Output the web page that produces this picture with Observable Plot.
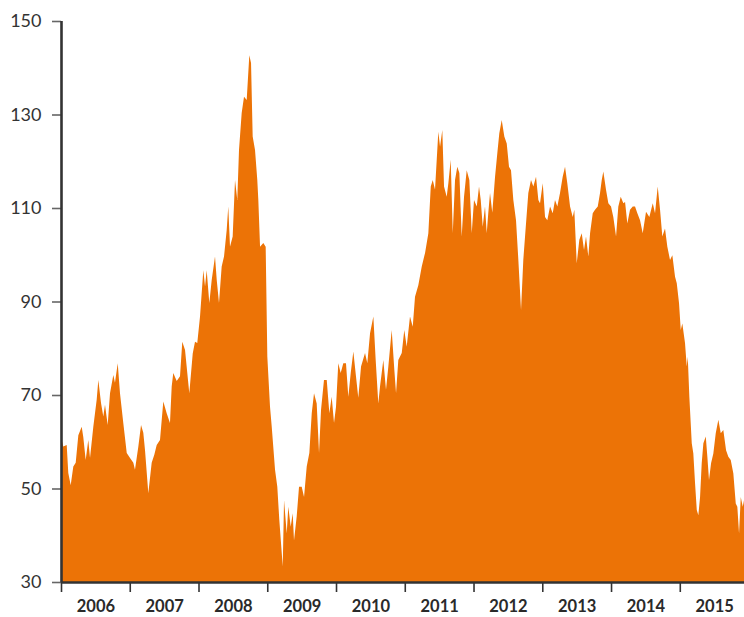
<!DOCTYPE html>
<html>
<head>
<meta charset="utf-8">
<script src="https://cdn.jsdelivr.net/npm/d3@7"></script>
<script src="https://cdn.jsdelivr.net/npm/@observablehq/plot@0.6"></script>
<style>
  html, body { margin: 0; padding: 0; background: #fff; }
  #chart { width: 744px; height: 617px; }
</style>
</head>
<body>
<div id="chart"></div>
<script>
// Time as decimal year, price
const dates = [
  2006.000, 2006.033, 2006.083, 2006.106, 2006.141, 2006.179, 2006.214, 2006.252, 2006.301, 2006.324,
  2006.359, 2006.397, 2006.422, 2006.470, 2006.519, 2006.543, 2006.582, 2006.615, 2006.640, 2006.679,
  2006.713, 2006.761, 2006.785, 2006.825, 2006.858, 2006.906, 2006.956, 2007.004, 2007.052, 2007.076,
  2007.124, 2007.164, 2007.197, 2007.222, 2007.270, 2007.319, 2007.357, 2007.392, 2007.440, 2007.488,
  2007.537, 2007.585, 2007.610, 2007.633, 2007.683, 2007.731, 2007.764, 2007.804, 2007.866, 2007.916,
  2007.949, 2007.982, 2008.022, 2008.070, 2008.095, 2008.119, 2008.157, 2008.192, 2008.240, 2008.265,
  2008.298, 2008.337, 2008.371, 2008.410, 2008.433, 2008.458, 2008.497, 2008.531, 2008.564, 2008.589,
  2008.628, 2008.662, 2008.701, 2008.739, 2008.764, 2008.788, 2008.822, 2008.855, 2008.870, 2008.895,
  2008.943, 2008.977, 2009.001, 2009.040, 2009.065, 2009.113, 2009.146, 2009.175, 2009.225, 2009.244,
  2009.283, 2009.306, 2009.341, 2009.370, 2009.389, 2009.428, 2009.462, 2009.501, 2009.535, 2009.574,
  2009.612, 2009.647, 2009.680, 2009.719, 2009.753, 2009.782, 2009.825, 2009.865, 2009.903, 2009.937,
  2009.971, 2010.000, 2010.033, 2010.068, 2010.106, 2010.145, 2010.179, 2010.214, 2010.252, 2010.291,
  2010.324, 2010.364, 2010.422, 2010.455, 2010.495, 2010.543, 2010.577, 2010.615, 2010.640, 2010.688,
  2010.727, 2010.761, 2010.810, 2010.848, 2010.873, 2010.906, 2010.956, 2010.993, 2011.028, 2011.076,
  2011.116, 2011.149, 2011.197, 2011.247, 2011.295, 2011.343, 2011.378, 2011.407, 2011.440, 2011.488,
  2011.513, 2011.546, 2011.571, 2011.610, 2011.634, 2011.668, 2011.698, 2011.731, 2011.764, 2011.794,
  2011.828, 2011.862, 2011.901, 2011.939, 2011.974, 2012.007, 2012.047, 2012.080, 2012.105, 2012.134,
  2012.167, 2012.192, 2012.215, 2012.240, 2012.273, 2012.313, 2012.346, 2012.375, 2012.410, 2012.448,
  2012.483, 2012.516, 2012.545, 2012.579, 2012.618, 2012.652, 2012.691, 2012.724, 2012.764, 2012.797,
  2012.836, 2012.870, 2012.909, 2012.943, 2012.967, 2013.007, 2013.040, 2013.073, 2013.113, 2013.152,
  2013.185, 2013.219, 2013.258, 2013.297, 2013.331, 2013.364, 2013.404, 2013.443, 2013.466, 2013.501,
  2013.539, 2013.574, 2013.607, 2013.636, 2013.670, 2013.695, 2013.734, 2013.767, 2013.807, 2013.840,
  2013.865, 2013.888, 2013.927, 2013.961, 2014.000, 2014.033, 2014.073, 2014.106, 2014.141, 2014.179,
  2014.204, 2014.237, 2014.276, 2014.316, 2014.349, 2014.383, 2014.422, 2014.461, 2014.509, 2014.557,
  2014.607, 2014.640, 2014.679, 2014.713, 2014.746, 2014.785, 2014.819, 2014.858, 2014.892, 2014.931,
  2014.956, 2014.989, 2015.014, 2015.037, 2015.076, 2015.101, 2015.116, 2015.139, 2015.174, 2015.197,
  2015.222, 2015.247, 2015.270, 2015.295, 2015.319, 2015.343, 2015.378, 2015.401, 2015.425, 2015.455,
  2015.488, 2015.523, 2015.561, 2015.596, 2015.633, 2015.673, 2015.706, 2015.741, 2015.779, 2015.814,
  2015.837, 2015.862, 2015.887, 2015.916, 2015.934
];
const prices = [
  61.0, 59.0, 59.3, 53.3, 50.7, 54.7, 55.5, 61.4, 63.2, 61.0,
  56.1, 60.4, 56.5, 63.2, 69.0, 73.2, 68.3, 65.4, 67.9, 63.6,
  70.4, 74.3, 72.6, 76.8, 70.4, 64.0, 57.6, 56.5, 55.5, 54.0,
  58.9, 63.6, 61.9, 58.2, 49.0, 55.5, 57.2, 59.3, 60.4, 68.6,
  66.1, 64.0, 71.8, 74.7, 73.0, 74.0, 81.4, 79.6, 70.4, 78.9,
  81.4, 81.1, 86.8, 96.7, 93.2, 96.7, 89.7, 94.6, 99.6, 94.6,
  89.7, 97.5, 99.6, 105.3, 110.3, 101.7, 103.9, 116.0, 111.7, 122.4,
  130.3, 133.8, 133.1, 142.7, 141.0, 125.3, 122.4, 116.0, 111.7, 101.7,
  102.5, 101.7, 78.2, 67.5, 63.2, 54.0, 50.4, 43.3, 33.3, 47.5,
  40.4, 46.1, 41.8, 44.7, 38.9, 44.0, 50.4, 50.4, 48.2, 54.7,
  57.6, 66.1, 70.4, 68.2, 57.6, 66.8, 73.2, 73.2, 66.1, 69.6,
  64.0, 67.5, 76.8, 74.7, 76.8, 76.8, 69.6, 74.7, 79.3, 73.9,
  69.4, 76.1, 79.0, 76.8, 83.2, 86.8, 77.5, 68.2, 71.8, 77.5,
  71.1, 76.1, 83.9, 75.4, 70.4, 77.5, 79.0, 83.9, 80.3, 86.8,
  84.6, 91.0, 93.5, 97.5, 100.4, 104.6, 114.6, 116.0, 113.9, 126.3,
  123.1, 126.7, 114.6, 112.4, 115.3, 120.3, 104.6, 116.0, 118.8, 117.5,
  103.9, 112.4, 118.1, 116.0, 104.6, 111.7, 110.3, 114.6, 111.7, 106.0,
  110.3, 104.6, 109.0, 113.2, 109.0, 116.7, 121.7, 126.0, 128.8, 125.3,
  123.8, 118.8, 118.1, 111.7, 107.4, 98.9, 88.2, 98.9, 106.8, 113.2,
  116.0, 114.6, 116.7, 111.7, 111.0, 115.3, 108.1, 107.4, 110.3, 108.9,
  111.7, 110.3, 113.2, 116.7, 118.8, 115.3, 110.3, 108.1, 109.6, 98.2,
  103.2, 104.6, 101.0, 103.9, 99.6, 104.6, 108.9, 109.6, 110.3, 113.2,
  116.0, 117.8, 113.9, 111.0, 110.3, 108.1, 103.9, 110.3, 112.4, 111.0,
  111.3, 106.7, 109.6, 110.3, 110.3, 108.9, 107.4, 104.6, 109.2, 108.1,
  111.0, 108.9, 114.6, 109.6, 103.9, 105.6, 101.7, 98.9, 99.9, 95.3,
  93.9, 89.6, 83.9, 85.3, 81.1, 76.1, 78.2, 69.6, 59.7, 57.5,
  51.1, 45.4, 44.3, 48.2, 55.4, 59.7, 61.1, 56.8, 51.8, 55.4,
  57.5, 61.8, 64.7, 61.8, 62.5, 58.2, 56.8, 56.1, 53.2, 46.8,
  46.1, 40.4, 48.2, 46.1, 47.5
];
const yTicks = [30, 50, 70, 90, 110, 130, 150];
const yearTicks = [2006, 2007, 2008, 2009, 2010, 2011, 2012, 2013, 2014, 2015];
const yearLabels = ["2006", "2007", "2008", "2009", "2010", "2011", "2012", "2013", "2014", "2015"];
const xDomain = [2006, 2015.934];
const yDomain = [30, 150];

const data = dates.map((t, i) => ({t, v: prices[i]}));
const labelPos = yearTicks.map(y => y + 0.5);

const chart = Plot.plot({
  width: 744,
  height: 617,
  marginLeft: 61,
  marginRight: 0,
  marginTop: 21,
  marginBottom: 35,
  style: {fontFamily: "Lato, 'Open Sans', sans-serif", background: "#fff", color: "#333"},
  x: {type: "linear", domain: xDomain},
  y: {domain: yDomain},
  marks: [
    Plot.areaY(data, {x: "t", y1: 30, y2: "v", fill: "#ec7306", curve: "linear"}),
    Plot.axisY({ticks: yTicks, tickSize: 9, tickPadding: 11, fontSize: 18, fontWeight: 400,
                stroke: "#666", strokeWidth: 1.6, fill: "#333", label: null}),
    Plot.axisX({ticks: yearTicks, tickSize: 10, tickFormat: () => "", stroke: "#333",
                strokeWidth: 1.6, label: null}),
    Plot.axisX({ticks: labelPos, tickSize: 0, tickPadding: 18,
                tickFormat: d => yearLabels[yearTicks.indexOf(Math.round(d - 0.5))],
                fontSize: 16.5, fontWeight: 700, fill: "#2a2a2a", label: null}),
    Plot.ruleY([30], {stroke: "#333", strokeWidth: 2.6}),
    Plot.ruleX([2006], {y1: 30, y2: 150, stroke: "#333", strokeWidth: 2.6})
  ]
});
document.getElementById("chart").appendChild(chart);
</script>
</body>
</html>
